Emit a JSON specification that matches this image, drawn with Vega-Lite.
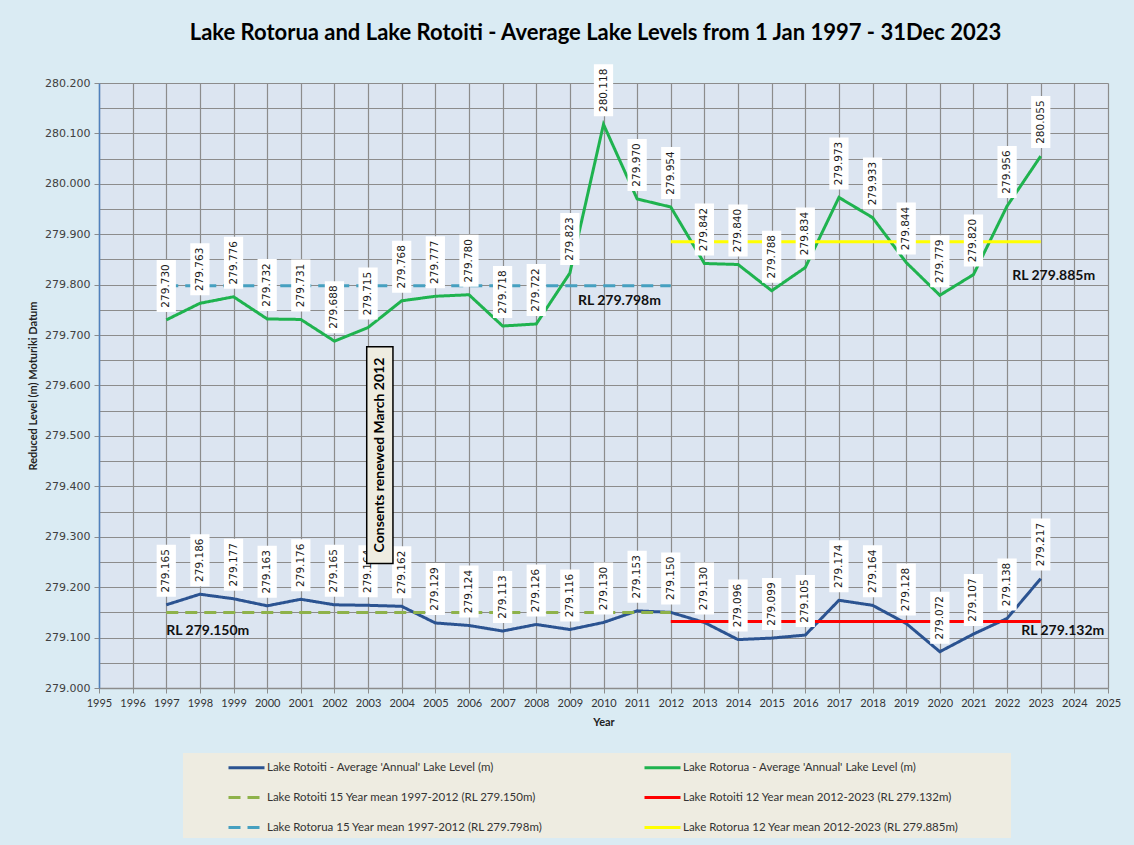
{
  "$schema": "https://vega.github.io/schema/vega-lite/v6.json",
  "width": 1009,
  "height": 605,
  "autosize": {"type": "none"},
  "padding": {"left": 99, "top": 83, "right": 26, "bottom": 157},
  "background": "#daebf3",
  "title": {
    "text": "Lake Rotorua and Lake Rotoiti  - Average Lake Levels  from 1 Jan 1997 - 31Dec 2023",
    "font": "Lato", "fontSize": 22, "fontWeight": "bold", "color": "#000000",
    "anchor": "middle", "frame": "group", "offset": 19, "dx": -8
  },
  "config": {
    "view": {"fill": "#dce5f1", "stroke": null},
    "axis": {"gridColor": "#8c8c8c", "gridOpacity": 1, "gridWidth": 1.2, "tickColor": "#8c8c8c"}
  },
  "datasets": {
    "annual": [
      {"year": 1997, "level": 279.165, "series": "Lake Rotoiti - Average 'Annual' Lake Level (m)"},
      {"year": 1998, "level": 279.186, "series": "Lake Rotoiti - Average 'Annual' Lake Level (m)"},
      {"year": 1999, "level": 279.177, "series": "Lake Rotoiti - Average 'Annual' Lake Level (m)"},
      {"year": 2000, "level": 279.163, "series": "Lake Rotoiti - Average 'Annual' Lake Level (m)"},
      {"year": 2001, "level": 279.176, "series": "Lake Rotoiti - Average 'Annual' Lake Level (m)"},
      {"year": 2002, "level": 279.165, "series": "Lake Rotoiti - Average 'Annual' Lake Level (m)"},
      {"year": 2003, "level": 279.164, "series": "Lake Rotoiti - Average 'Annual' Lake Level (m)"},
      {"year": 2004, "level": 279.162, "series": "Lake Rotoiti - Average 'Annual' Lake Level (m)"},
      {"year": 2005, "level": 279.129, "series": "Lake Rotoiti - Average 'Annual' Lake Level (m)"},
      {"year": 2006, "level": 279.124, "series": "Lake Rotoiti - Average 'Annual' Lake Level (m)"},
      {"year": 2007, "level": 279.113, "series": "Lake Rotoiti - Average 'Annual' Lake Level (m)"},
      {"year": 2008, "level": 279.126, "series": "Lake Rotoiti - Average 'Annual' Lake Level (m)"},
      {"year": 2009, "level": 279.116, "series": "Lake Rotoiti - Average 'Annual' Lake Level (m)"},
      {"year": 2010, "level": 279.130, "series": "Lake Rotoiti - Average 'Annual' Lake Level (m)"},
      {"year": 2011, "level": 279.153, "series": "Lake Rotoiti - Average 'Annual' Lake Level (m)"},
      {"year": 2012, "level": 279.150, "series": "Lake Rotoiti - Average 'Annual' Lake Level (m)"},
      {"year": 2013, "level": 279.130, "series": "Lake Rotoiti - Average 'Annual' Lake Level (m)"},
      {"year": 2014, "level": 279.096, "series": "Lake Rotoiti - Average 'Annual' Lake Level (m)"},
      {"year": 2015, "level": 279.099, "series": "Lake Rotoiti - Average 'Annual' Lake Level (m)"},
      {"year": 2016, "level": 279.105, "series": "Lake Rotoiti - Average 'Annual' Lake Level (m)"},
      {"year": 2017, "level": 279.174, "series": "Lake Rotoiti - Average 'Annual' Lake Level (m)"},
      {"year": 2018, "level": 279.164, "series": "Lake Rotoiti - Average 'Annual' Lake Level (m)"},
      {"year": 2019, "level": 279.128, "series": "Lake Rotoiti - Average 'Annual' Lake Level (m)"},
      {"year": 2020, "level": 279.072, "series": "Lake Rotoiti - Average 'Annual' Lake Level (m)"},
      {"year": 2021, "level": 279.107, "series": "Lake Rotoiti - Average 'Annual' Lake Level (m)"},
      {"year": 2022, "level": 279.138, "series": "Lake Rotoiti - Average 'Annual' Lake Level (m)"},
      {"year": 2023, "level": 279.217, "series": "Lake Rotoiti - Average 'Annual' Lake Level (m)"},
      {"year": 1997, "level": 279.730, "series": "Lake Rotorua - Average 'Annual' Lake Level (m)"},
      {"year": 1998, "level": 279.763, "series": "Lake Rotorua - Average 'Annual' Lake Level (m)"},
      {"year": 1999, "level": 279.776, "series": "Lake Rotorua - Average 'Annual' Lake Level (m)"},
      {"year": 2000, "level": 279.732, "series": "Lake Rotorua - Average 'Annual' Lake Level (m)"},
      {"year": 2001, "level": 279.731, "series": "Lake Rotorua - Average 'Annual' Lake Level (m)"},
      {"year": 2002, "level": 279.688, "series": "Lake Rotorua - Average 'Annual' Lake Level (m)"},
      {"year": 2003, "level": 279.715, "series": "Lake Rotorua - Average 'Annual' Lake Level (m)"},
      {"year": 2004, "level": 279.768, "series": "Lake Rotorua - Average 'Annual' Lake Level (m)"},
      {"year": 2005, "level": 279.777, "series": "Lake Rotorua - Average 'Annual' Lake Level (m)"},
      {"year": 2006, "level": 279.780, "series": "Lake Rotorua - Average 'Annual' Lake Level (m)"},
      {"year": 2007, "level": 279.718, "series": "Lake Rotorua - Average 'Annual' Lake Level (m)"},
      {"year": 2008, "level": 279.722, "series": "Lake Rotorua - Average 'Annual' Lake Level (m)"},
      {"year": 2009, "level": 279.823, "series": "Lake Rotorua - Average 'Annual' Lake Level (m)"},
      {"year": 2010, "level": 280.118, "series": "Lake Rotorua - Average 'Annual' Lake Level (m)"},
      {"year": 2011, "level": 279.970, "series": "Lake Rotorua - Average 'Annual' Lake Level (m)"},
      {"year": 2012, "level": 279.954, "series": "Lake Rotorua - Average 'Annual' Lake Level (m)"},
      {"year": 2013, "level": 279.842, "series": "Lake Rotorua - Average 'Annual' Lake Level (m)"},
      {"year": 2014, "level": 279.840, "series": "Lake Rotorua - Average 'Annual' Lake Level (m)"},
      {"year": 2015, "level": 279.788, "series": "Lake Rotorua - Average 'Annual' Lake Level (m)"},
      {"year": 2016, "level": 279.834, "series": "Lake Rotorua - Average 'Annual' Lake Level (m)"},
      {"year": 2017, "level": 279.973, "series": "Lake Rotorua - Average 'Annual' Lake Level (m)"},
      {"year": 2018, "level": 279.933, "series": "Lake Rotorua - Average 'Annual' Lake Level (m)"},
      {"year": 2019, "level": 279.844, "series": "Lake Rotorua - Average 'Annual' Lake Level (m)"},
      {"year": 2020, "level": 279.779, "series": "Lake Rotorua - Average 'Annual' Lake Level (m)"},
      {"year": 2021, "level": 279.820, "series": "Lake Rotorua - Average 'Annual' Lake Level (m)"},
      {"year": 2022, "level": 279.956, "series": "Lake Rotorua - Average 'Annual' Lake Level (m)"},
      {"year": 2023, "level": 280.055, "series": "Lake Rotorua - Average 'Annual' Lake Level (m)"}
    ],
    "means": [
      {"year": 1997, "level": 279.150, "series": "Lake Rotoiti 15 Year mean 1997-2012 (RL 279.150m)"},
      {"year": 2012, "level": 279.150, "series": "Lake Rotoiti 15 Year mean 1997-2012 (RL 279.150m)"},
      {"year": 2012, "level": 279.132, "series": "Lake Rotoiti 12 Year mean 2012-2023 (RL 279.132m)"},
      {"year": 2023, "level": 279.132, "series": "Lake Rotoiti 12 Year mean 2012-2023 (RL 279.132m)"},
      {"year": 1997, "level": 279.798, "series": "Lake Rotorua 15 Year mean 1997-2012 (RL 279.798m)"},
      {"year": 2012, "level": 279.798, "series": "Lake Rotorua 15 Year mean 1997-2012 (RL 279.798m)"},
      {"year": 2012, "level": 279.885, "series": "Lake Rotorua 12 Year mean 2012-2023 (RL 279.885m)"},
      {"year": 2023, "level": 279.885, "series": "Lake Rotorua 12 Year mean 2012-2023 (RL 279.885m)"}
    ],
    "notes": [
      {"year": 1997, "level": 279.114, "text": "RL 279.150m"},
      {"year": 2009.24, "level": 279.767, "text": "RL 279.798m"},
      {"year": 2022.15, "level": 279.818, "text": "RL 279.885m"},
      {"year": 2022.42, "level": 279.114, "text": "RL 279.132m"}
    ],
    "consentBox": [
      {"year": 2002.96, "year2": 2003.74, "level": 279.247, "level2": 279.677}
    ],
    "consentText": [
      {"year": 2003.35, "level": 279.462, "text": "Consents  renewed  March 2012"}
    ]
  },
  "encoding": {
    "x": {
      "field": "year", "type": "quantitative",
      "scale": {"domain": [1995, 2025], "nice": false, "zero": false},
      "axis": {
        "values": [1995,1996,1997,1998,1999,2000,2001,2002,2003,2004,2005,2006,2007,2008,2009,2010,2011,2012,2013,2014,2015,2016,2017,2018,2019,2020,2021,2022,2023,2024,2025],
        "format": "d", "title": "Year",
        "titleFont": "Lato", "titleFontSize": 11, "titleFontWeight": "bold", "titleColor": "#222222", "titlePadding": 8,
        "labelFont": "Lato", "labelFontSize": 11, "labelColor": "#333333", "labelPadding": 4, "labelOverlap": false, "labelFlush": false, "labelBound": false,
        "tickSize": 5, "domainColor": "#8c8c8c", "domainWidth": 1.5
      }
    },
    "y": {
      "field": "level", "type": "quantitative",
      "scale": {"domain": [279, 280.2], "nice": false, "zero": false},
      "axis": {
        "values": [279,279.05,279.1,279.15,279.2,279.25,279.3,279.35,279.4,279.45,279.5,279.55,279.6,279.65,279.7,279.75,279.8,279.85,279.9,279.95,280,280.05,280.1,280.15,280.2],
        "labelExpr": "abs(datum.value*10-round(datum.value*10))<0.001 ? format(datum.value,'.3f') : ''",
        "labelOverlap": false, "labelFlush": false,
        "title": "Reduced Level (m) Moturiki Datum",
        "titleFont": "Lato", "titleFontSize": 11, "titleFontWeight": "bold", "titleColor": "#222222", "titlePadding": 6,
        "labelFont": "DejaVu Sans", "labelFontSize": 11, "labelColor": "#404040", "labelPadding": 4,
        "tickSize": 5,
        "tickOpacity": {"condition": {"test": "abs(datum.value*10-round(datum.value*10))>0.001", "value": 0}, "value": 1},
        "domainColor": "#4f81bd", "domainWidth": 1.5
      }
    }
  },
  "layer": [
    {
      "data": {"name": "annual"},
      "mark": {"type": "line", "strokeWidth": 3},
      "encoding": {
        "color": {
          "field": "series", "type": "nominal",
          "scale": {
            "domain": ["Lake Rotoiti - Average 'Annual' Lake Level (m)", "Lake Rotoiti 15 Year mean 1997-2012 (RL 279.150m)", "Lake Rotorua 15 Year mean 1997-2012 (RL 279.798m)", "Lake Rotorua - Average 'Annual' Lake Level (m)", "Lake Rotoiti 12 Year mean 2012-2023 (RL 279.132m)", "Lake Rotorua 12 Year mean 2012-2023 (RL 279.885m)"],
            "range": ["#2b5391", "#8eb24a", "#46a0c0", "#1fb34f", "#ff0000", "#ffff00"]
          },
          "sort": null,
          "legend": {
            "orient": "none", "legendX": 84, "legendY": 670,
            "title": "\u00a0", "titleOrient": "right", "titlePadding": 48, "titleFontSize": 2,
            "columns": 2, "gridAlign": "all", "columnPadding": 60, "rowPadding": 13, "padding": 4,
            "fillColor": "#eeece1", "strokeColor": null,
            "symbolType": "M-2,0H2", "symbolSize": 324, "symbolStrokeWidth": 3, "symbolOffset": 49,
            "labelOffset": 10, "labelFont": "Lato", "labelFontSize": 11.5, "labelColor": "#333333", "labelLimit": 500
          }
        },
        "strokeDash": {
          "field": "series", "type": "nominal", "sort": null,
          "scale": {
            "domain": ["Lake Rotoiti - Average 'Annual' Lake Level (m)", "Lake Rotoiti 15 Year mean 1997-2012 (RL 279.150m)", "Lake Rotorua 15 Year mean 1997-2012 (RL 279.798m)", "Lake Rotorua - Average 'Annual' Lake Level (m)", "Lake Rotoiti 12 Year mean 2012-2023 (RL 279.132m)", "Lake Rotorua 12 Year mean 2012-2023 (RL 279.885m)"],
            "range": [[1, 0], [12, 7], [12, 7], [1, 0], [1, 0], [1, 0]]
          }
        }
      }
    },
    {
      "data": {"name": "means"},
      "mark": {"type": "line", "strokeWidth": 3},
      "encoding": {
        "color": {"field": "series", "type": "nominal", "sort": null},
        "strokeDash": {"field": "series", "type": "nominal", "sort": null}
      }
    },
    {
      "data": {"name": "annual"},
      "mark": {"type": "point", "shape": "M-0.37,-1H0.37V1H-0.37Z", "size": 2704, "filled": true, "fill": "#ffffff", "opacity": 1, "strokeWidth": 0, "yOffset": -34}
    },
    {
      "data": {"name": "annual"},
      "mark": {"type": "text", "angle": 270, "align": "center", "baseline": "middle", "yOffset": -34, "font": "DejaVu Sans", "fontSize": 10.5, "color": "#1a1a1a"},
      "encoding": {"text": {"field": "level", "type": "quantitative", "format": ".3f"}}
    },
    {
      "data": {"name": "consentBox"},
      "mark": {"type": "rect", "fill": "#eeece1", "stroke": "#000000", "strokeWidth": 1.5},
      "encoding": {
        "x2": {"field": "year2"},
        "y2": {"field": "level2"}
      }
    },
    {
      "data": {"name": "consentText"},
      "mark": {"type": "text", "angle": 270, "align": "center", "baseline": "middle", "font": "Lato", "fontSize": 14, "fontWeight": "bold", "color": "#000000"},
      "encoding": {"text": {"field": "text"}}
    },
    {
      "data": {"name": "notes"},
      "mark": {"type": "text", "align": "left", "baseline": "middle", "font": "Lato", "fontSize": 14, "fontWeight": "bold", "color": "#111111"},
      "encoding": {"text": {"field": "text"}}
    }
  ]
}
